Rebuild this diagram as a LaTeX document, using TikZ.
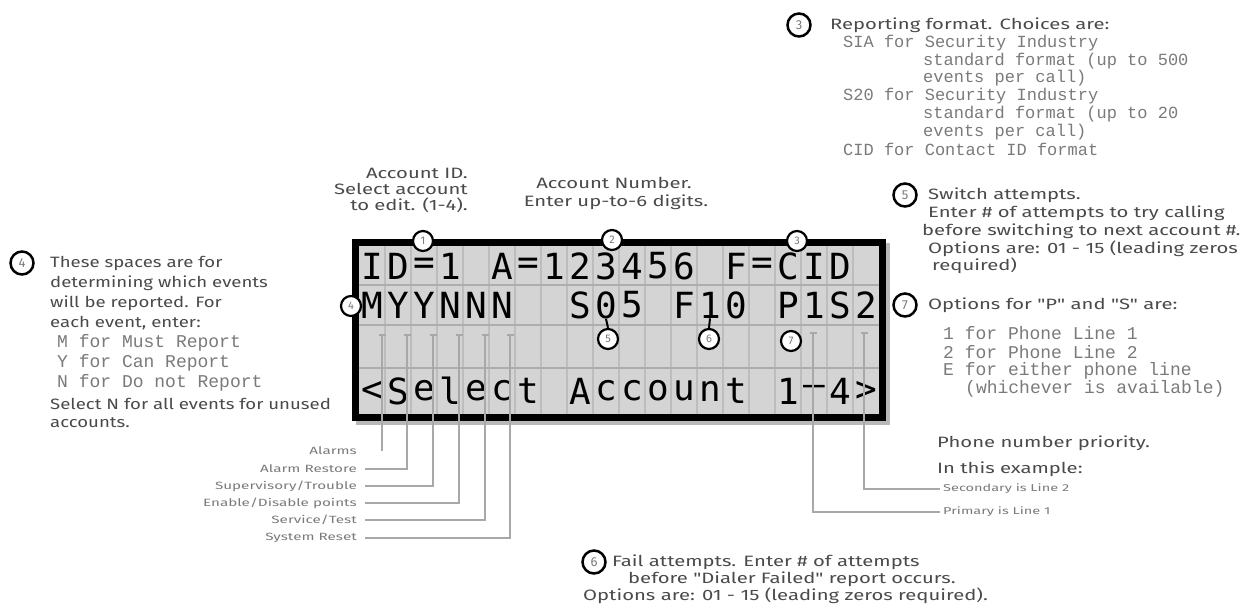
\documentclass[tikz,border=0pt]{standalone}
\usepackage{fontspec}
\setmainfont{Fira Sans}
\setmonofont{Liberation Mono}
\newfontfamily\lcdfont{DejaVu Sans Mono}
\newfontfamily\handfont[FakeStretch=1.35]{Fira Sans}
\newfontfamily\lhandfont[FakeStretch=1.24]{Fira Sans}
\newfontfamily\tinyhand[FakeStretch=1.45]{Fira Sans}
\definecolor{txt}{HTML}{4A4A4A}
\definecolor{mtxt}{HTML}{7A7A7A}
\definecolor{lcdbg}{HTML}{D4D4D4}
\definecolor{gridc}{HTML}{BDBDBD}
\definecolor{rowc}{HTML}{ADADAD}
\definecolor{leadc}{HTML}{A8A8A8}
\tikzset{
  lcd/.style={font=\lcdfont\fontsize{36}{36}\selectfont, inner sep=0pt, text=black},
  num/.style={circle, draw=black, line width=2.2pt, fill=white, minimum size=20pt, inner sep=0pt, text=mtxt, font=\fontsize{11}{11}\selectfont},
  bignum/.style={num, minimum size=23pt, line width=2.5pt, font=\fontsize{13}{13}\selectfont},
  note/.style={anchor=west, inner sep=0pt, text=txt, font=\handfont\fontsize{15}{15}\selectfont},
  lnote/.style={anchor=west, inner sep=0pt, text=txt, font=\lhandfont\fontsize{15}{15}\selectfont},
  mono/.style={anchor=west, inner sep=0pt, text=mtxt, font=\ttfamily\fontsize{18}{18}\selectfont},
  smono/.style={anchor=west, inner sep=0pt, text=mtxt, font=\ttfamily\fontsize{17}{17}\selectfont},
  evlab/.style={anchor=east, inner sep=0pt, text=mtxt, font=\tinyhand\fontsize{10.5}{10.5}\selectfont},
  phlab/.style={anchor=west, inner sep=0pt, text=mtxt, font=\tinyhand\fontsize{10}{10}\selectfont},
  lead/.style={draw=leadc, line width=1.5pt},
}
\begin{document}
\begin{tikzpicture}[x=1pt,y=-1pt]
\useasboundingbox (0,0) rectangle (1250,613);
% ---------- LCD display ----------
\fill[gray!55] (356,243) rectangle (890,425);
\draw[line width=7pt, fill=lcdbg] (355.5,242.5) rectangle (882.5,417.5);
\foreach \k in {1,...,19} \draw[gridc, line width=1.3pt] ({359+26*\k},246) -- ({359+26*\k},414);
\foreach \yy in {285,325,368} \draw[rowc, line width=2.5pt] (359,\yy) -- (879,\yy);
% row 1
\foreach \c/\k in {I/0,D/1,=/2,1/3,A/5,=/6,1/7,2/8,3/9,4/10,5/11,6/12,F/14,=/15,C/16,I/17,D/18}
  \node[lcd] (ra\k) at ({372+26*\k},266) {\c};
% row 2
\foreach \c/\k in {M/0,Y/1,Y/2,N/3,N/4,N/5,S/8,0/9,5/10,F/12,1/13,0/14,P/16,1/17,S/18,2/19}
  \node[lcd] (rb\k) at ({372+26*\k},305) {\c};
% row 4
\foreach \c/\k in {</0,S/1,e/2,l/3,e/4,c/5,t/6,A/8,c/9,c/10,o/11,u/12,n/13,t/14,1/16,{\textendash}/17,4/18,>/19}
  \node[lcd] (rd\k) at ({372+26*\k},391) {\c};
% ---------- event leads ----------
\node[evlab] (ev1) at (357,451) {Alarms};
\node[evlab] (ev2) at (357,469) {Alarm Restore};
\node[evlab] (ev3) at (357,486) {Supervisory/Trouble};
\node[evlab] (ev4) at (357,503) {Enable/Disable points};
\node[evlab] (ev5) at (357,520) {Service/Test};
\node[evlab] (ev6) at (357,538) {System Reset};
\foreach \xx [count=\i] in {382,407,433,459,485,510}
  \coordinate (et\i) at (\xx,335);
\draw[lead] (et1) -- (et1 |- ev1.east);
\foreach \i in {2,...,6} \draw[lead] (et\i) |- ([xshift=8pt]ev\i.east);
\foreach \i in {1,...,6} \draw[lead] ([xshift=-3.5pt]et\i) -- ([xshift=3.5pt]et\i);
% ---------- phone leads ----------
\node[note] (prio) at (937,443) {Phone number priority.};
\node[note] (ex) at (937,469) {In this example:};
\node[phlab] (sec) at (943,489) {Secondary is Line 2};
\node[phlab] (pri) at (943,512) {Primary is Line 1};
\coordinate (pt1) at (813,333);
\coordinate (pt2) at (864,333);
\draw[lead] (pt1) |- ([xshift=-3pt]pri.west);
\draw[lead] (pt2) |- ([xshift=-3pt]sec.west);
\draw[lead] ([xshift=-3.5pt]pt1) -- ([xshift=3.5pt]pt1);
\draw[lead] ([xshift=-3.5pt]pt2) -- ([xshift=3.5pt]pt2);
% ---------- numbered circles on the display ----------
\node[num] (c1) at (423,241) {1};
\node[num] (c2) at (612,240) {2};
\node[num] (c3) at (797,241) {3};
\node[num] (c4) at (351,306) {4};
\node[num] (c5) at (608,339) {5};
\node[num] (c6) at (709,339) {6};
\node[num] (c7) at (791,341) {7};
\draw[line width=2pt] (c5.north) -- (rb9.south);
\draw[line width=2pt] (c6.north) -- (rb13.south);
% ---------- top labels ----------
\node[note, anchor=east] (aid1) at (468,173) {Account ID.};
\node[note, anchor=east] (aid2) at (468,189) {Select account};
\node[note, anchor=east] (aid3) at (468,205) {to edit. (1-4).};
\node[note, anchor=center] (ano1) at (614,183) {Account Number.};
\node[note, anchor=center] (ano2) at (616,202) {Enter up-to-6 digits.};
% ---------- block 3 ----------
\node[bignum] (n3) at (799,25) {3};
\node[note] (t3) at (830,25) {Reporting format. Choices are:};
\node[smono] (m31) at (843,43) {SIA for Security Industry};
\node[smono] (m32) at (923,61) {standard format (up to 500};
\node[smono] (m33) at (923,78) {events per call)};
\node[smono] (m34) at (843,96) {S20 for Security Industry};
\node[smono] (m35) at (923,114) {standard format (up to 20};
\node[smono] (m36) at (923,132) {events per call)};
\node[smono] (m37) at (843,149) {CID for Contact ID format};
% ---------- block 5 ----------
\node[bignum] (n5) at (905,195) {5};
\node[note] (t51) at (928,195) {Switch attempts.};
\node[note] (t52) at (928,213) {Enter \# of attempts to try calling};
\node[note] (t53) at (922,231) {before switching to next account \#.};
\node[note] (t54) at (928,249) {Options are: 01 - 15 (leading zeros};
\node[note] (t55) at (932,266) {required)};
% ---------- block 7 ----------
\node[bignum] (n7) at (905,305) {7};
\node[note] (t71) at (928,305) {Options for "P" and "S" are:};
\node[mono] (m71) at (943,333) {1 for Phone Line 1};
\node[mono] (m72) at (943,352) {2 for Phone Line 2};
\node[mono] (m73) at (943,371) {E for either phone line};
\node[mono] (m74) at (965,389) {(whichever is available)};
% ---------- block 4 ----------
\node[bignum] (n4) at (22,263) {4};
\node[lnote] (t41) at (50,263) {These spaces are for};
\node[lnote] (t42) at (50,283) {determining which events};
\node[lnote] (t43) at (50,303) {will be reported. For};
\node[lnote] (t44) at (50,323) {each event, enter:};
\node[mono] (m41) at (57,343) {M for Must Report};
\node[mono] (m42) at (57,363) {Y for Can Report};
\node[mono] (m43) at (57,383) {N for Do not Report};
\node[lnote] (t45) at (50,404) {Select N for all events for unused};
\node[lnote] (t46) at (50,423) {accounts.};
% ---------- block 6 ----------
\node[bignum] (n6) at (594,562) {6};
\node[note] (t61) at (612,562) {Fail attempts. Enter \# of attempts};
\node[note] (t62) at (628,579) {before "Dialer Failed" report occurs.};
\node[note] (t63) at (583,596) {Options are: 01 - 15 (leading zeros required).};
\end{tikzpicture}
\end{document}
